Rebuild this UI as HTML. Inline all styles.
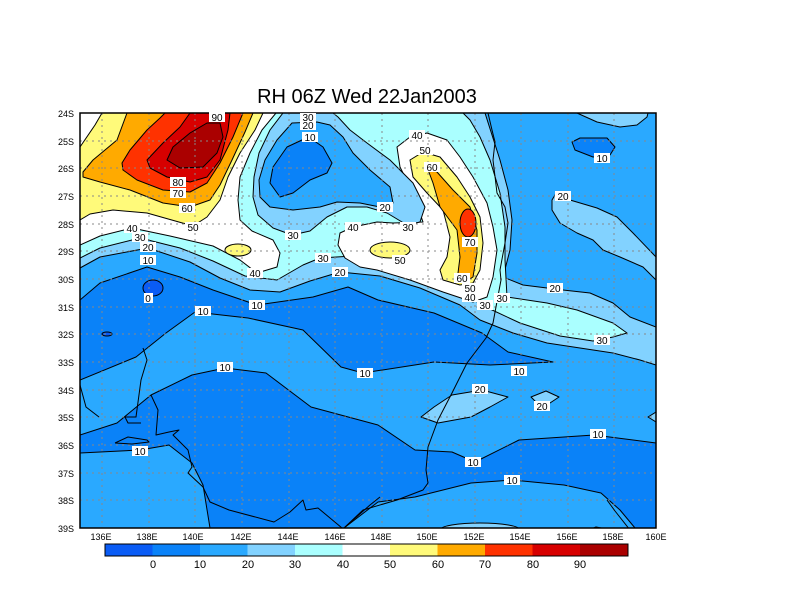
<!DOCTYPE html>
<html><head><meta charset="utf-8"><style>
html,body{margin:0;padding:0;background:#fff;}
svg{display:block;}
text{font-family:"Liberation Sans",sans-serif;}
</style></head><body>
<svg width="800" height="600" viewBox="0 0 800 600" xmlns="http://www.w3.org/2000/svg">
<defs><clipPath id="pc"><rect x="80" y="113" width="576" height="415"/></clipPath></defs>
<text x="367" y="103" font-size="20" text-anchor="middle" fill="#000">RH 06Z Wed 22Jan2003</text>
<g clip-path="url(#pc)" stroke="#000" stroke-width="1" stroke-linejoin="round">
<rect x="80" y="113" width="576" height="415" fill="#2aa9ff" stroke="none"/>
<polygon fill="#0a82f8" points="80,300 100,283 147,267 180,277 213,290 257,305 313,297 348,287 378,300 434,313 482,333 508,352 553,362 490,365 434,362 363,373 341,367 303,330 248,318 195,312 166,333 136,357 80,380"/>
<polygon fill="#0a82f8" points="80,435 117,423 151,395 192,375 225,368 266,373 311,407 378,425 415,450 452,452 475,462 519,440 594,435 656,443 656,528 635,528 620,510 601,493 564,485 512,480 471,483 415,497 378,502 344,528 210,528 203,485 192,463 169,445 140,450 80,453"/>
<polygon fill="#82d2ff" points="421,417 434,407 452,395 482,390 508,397 490,407 471,417 438,423"/>
<polygon fill="#82d2ff" points="531,397 546,391 559,397 547,405 536,402"/>
<polygon fill="#82d2ff" points="656,412 648,417 656,422"/>
<ellipse cx="480" cy="530" rx="40" ry="7" fill="#82d2ff"/>
<polygon fill="#82d2ff" points="80,268 100,257 148,248 190,262 220,278 250,290 280,292 310,281 340,272 380,276 420,288 460,305 480,320 513,333 547,343 580,348 613,353 640,360 656,365 656,327 630,317 613,303 590,293 563,290 523,285 503,277 510,250 512,220 508,190 500,160 492,135 485,113 80,113"/>
<polygon fill="#82d2ff" points="552,200 555,195 570,200 597,208 617,217 633,233 656,257 656,280 643,267 620,257 603,250 593,240 577,233 560,223 552,210"/>
<polygon fill="#82d2ff" points="577,113 597,122 620,127 637,125 647,117 648,113"/>
<polygon fill="#0a82f8" points="572,142 580,138 607,138 615,147 610,155 593,157 575,150"/>
<polygon fill="#aaffff" points="80,258 100,248 140,238 180,248 213,261 245,276 277,280 303,265 320,258 353,256 380,262 407,270 440,280 470,298 490,309 520,323 560,336 593,341 613,337 627,333 613,323 577,310 547,303 507,297 505,260 505,227 500,193 490,160 480,137 470,120 463,113 80,113"/>
<polygon fill="#ffffff" points="80,245 100,236 132,228 170,236 213,246 240,260 257,273 277,267 280,253 273,240 252,231 240,220 238,200 240,177 250,153 262,130 276,113 80,113"/>
<polygon fill="#ffffff" points="340,233 353,227 377,222 393,223 423,222 413,193 400,167 397,147 410,137 427,133 447,140 460,157 473,177 487,203 493,227 497,250 493,277 487,297 473,302 443,292 410,280 377,270 360,267 345,258 338,245"/>
<polygon fill="#fffa7a" points="80,147 95,125 102,113 263,113 255,130 240,153 228,177 220,200 207,217 193,226 147,213 113,210 90,214 80,220"/>
<ellipse cx="238" cy="250" rx="13" ry="6" fill="#fffa7a"/>
<ellipse cx="390" cy="250" rx="20" ry="8" fill="#fffa7a"/>
<polygon fill="#fffa7a" points="410,160 423,152 440,157 457,177 470,197 480,217 483,243 480,270 473,283 460,285 443,280 440,270 447,257 450,237 443,210 427,193 413,177"/>
<polygon fill="#ffaa00" points="83,172 93,160 117,140 127,113 253,113 245,132 232,160 220,185 210,200 190,207 163,203 130,190 100,182 83,177"/>
<polygon fill="#ffaa00" points="427,167 437,172 453,190 470,207 477,230 477,253 473,277 463,283 458,273 460,257 457,230 440,207 433,183"/>
<polygon fill="#ff3200" points="122,163 130,150 147,130 160,118 165,113 243,113 233,137 220,163 207,183 190,192 163,190 137,180 123,170"/>
<ellipse cx="468" cy="223" rx="8" ry="14" fill="#ff3200"/>
<polygon fill="#d70000" points="147,160 163,143 180,127 190,113 230,113 228,130 220,160 207,177 190,182 167,177 150,168"/>
<polygon fill="#aa0000" points="167,160 173,147 190,133 207,123 220,123 223,137 217,153 203,167 180,168"/>
<polygon fill="#82d2ff" points="283,113 270,130 259,153 254,177 253,197 258,215 273,228 292,235 310,231 327,217 347,207 367,207 387,213 407,225 420,222 425,207 413,183 390,160 367,143 350,130 338,117 333,113"/>
<polygon fill="#2aa9ff" points="292,123 277,140 265,160 259,180 260,197 270,207 293,210 320,207 337,202 360,203 380,207 393,203 390,187 370,170 353,153 343,137 330,125 317,122"/>
<polygon fill="#0a82f8" points="302,140 287,147 273,167 270,183 280,197 293,193 310,180 327,173 332,163 323,147 313,140"/>
<ellipse cx="153" cy="288" rx="10" ry="8" fill="#0a5cf5"/>
<ellipse cx="107" cy="334" rx="5" ry="2" fill="#0a5cf5"/>
<g stroke="#888" stroke-dasharray="2,4" fill="none">
<path d="M102,113V528M149,113V528M195,113V528M242,113V528M289,113V528M335,113V528M382,113V528M428,113V528M475,113V528M521,113V528M568,113V528M614,113V528"/>
<path d="M80,141H656M80,168H656M80,196H656M80,224H656M80,251H656M80,279H656M80,307H656M80,334H656M80,362H656M80,390H656M80,417H656M80,445H656M80,473H656M80,500H656"/>
</g>
<g fill="none" stroke="#000">
<polyline points="488,113 492,130 495,142 493,160 497,193 505,207 508,223 505,243 500,270 501,280 493,323 486,338 467,363 452,393 438,420 428,447 426,470 428,483 423,490 397,500 363,510 344,528"/>
<polyline points="344,528 370,505 380,497"/>
<polyline points="80,385 86,407 99,417"/>
<polyline points="143,348 147,360 141,380 136,417 125,417 128,423 141,423"/>
<polyline points="151,395 158,410 156,435 169,432 179,430 173,435 188,450 192,467 188,473 203,487 210,502 229,510 274,522 290,512 303,500 306,510 318,508 336,523 342,528"/>
<polyline points="115,443 128,437 147,440 149,442 132,444 115,443"/>
<polyline points="607,500 615,511 630,530"/>
<polyline points="588,530 596,527 607,529"/>
</g>
</g>
<rect x="80" y="113" width="576" height="415" fill="none" stroke="#000" stroke-width="1.5"/>
<g font-size="10" text-anchor="middle">
<g fill="#fff" stroke="none">
<rect x="209" y="112" width="16" height="10"/><rect x="170" y="177" width="16" height="10"/><rect x="170" y="188" width="16" height="10"/><rect x="179" y="203" width="16" height="10"/><rect x="185" y="222" width="16" height="10"/><rect x="124" y="223" width="16" height="10"/><rect x="132" y="232" width="16" height="10"/><rect x="140" y="242" width="16" height="10"/><rect x="140" y="255" width="16" height="10"/><rect x="144" y="293" width="9" height="10"/><rect x="300" y="113" width="16" height="9"/><rect x="300" y="120" width="16" height="10"/><rect x="302" y="132" width="16" height="10"/><rect x="377" y="202" width="16" height="10"/><rect x="400" y="222" width="16" height="10"/><rect x="345" y="222" width="16" height="10"/><rect x="285" y="230" width="16" height="10"/><rect x="392" y="255" width="16" height="10"/><rect x="315" y="253" width="16" height="10"/><rect x="332" y="267" width="16" height="10"/><rect x="247" y="268" width="16" height="10"/><rect x="409" y="130" width="16" height="10"/><rect x="417" y="145" width="16" height="10"/><rect x="424" y="162" width="16" height="10"/><rect x="462" y="237" width="16" height="10"/><rect x="454" y="273" width="16" height="10"/><rect x="462" y="283" width="16" height="10"/><rect x="462" y="292" width="16" height="10"/><rect x="477" y="300" width="16" height="10"/><rect x="494" y="293" width="16" height="10"/><rect x="547" y="283" width="16" height="10"/><rect x="594" y="153" width="16" height="10"/><rect x="555" y="191" width="16" height="10"/><rect x="594" y="335" width="16" height="10"/><rect x="249" y="300" width="16" height="10"/><rect x="195" y="306" width="16" height="10"/><rect x="217" y="362" width="16" height="10"/><rect x="357" y="368" width="16" height="10"/><rect x="511" y="366" width="16" height="10"/><rect x="472" y="384" width="16" height="10"/><rect x="534" y="401" width="16" height="10"/><rect x="590" y="429" width="16" height="10"/><rect x="465" y="457" width="16" height="10"/><rect x="504" y="475" width="16" height="10"/><rect x="132" y="446" width="16" height="10"/>
</g>
<g fill="#000">
<text x="217" y="121">90</text><text x="178" y="186">80</text><text x="178" y="197">70</text><text x="187" y="212">60</text><text x="193" y="231">50</text><text x="132" y="232">40</text><text x="140" y="241">30</text><text x="148" y="251">20</text><text x="148" y="264">10</text><text x="148" y="302">0</text><text x="308" y="121">30</text><text x="308" y="129">20</text><text x="310" y="141">10</text><text x="385" y="211">20</text><text x="408" y="231">30</text><text x="353" y="231">40</text><text x="293" y="239">30</text><text x="400" y="264">50</text><text x="323" y="262">30</text><text x="340" y="276">20</text><text x="255" y="277">40</text><text x="417" y="139">40</text><text x="425" y="154">50</text><text x="432" y="171">60</text><text x="470" y="246">70</text><text x="462" y="282">60</text><text x="470" y="292">50</text><text x="470" y="301">40</text><text x="485" y="309">30</text><text x="502" y="302">30</text><text x="555" y="292">20</text><text x="602" y="162">10</text><text x="563" y="200">20</text><text x="602" y="344">30</text><text x="257" y="309">10</text><text x="203" y="315">10</text><text x="225" y="371">10</text><text x="365" y="377">10</text><text x="519" y="375">10</text><text x="480" y="393">20</text><text x="542" y="410">20</text><text x="598" y="438">10</text><text x="473" y="466">10</text><text x="512" y="484">10</text><text x="140" y="455">10</text>
</g></g>
<g font-size="9" fill="#000" text-anchor="end">
<text x="74" y="117">24S</text><text x="74" y="145">25S</text><text x="74" y="172">26S</text><text x="74" y="200">27S</text><text x="74" y="228">28S</text><text x="74" y="255">29S</text><text x="74" y="283">30S</text><text x="74" y="311">31S</text><text x="74" y="338">32S</text><text x="74" y="366">33S</text><text x="74" y="394">34S</text><text x="74" y="421">35S</text><text x="74" y="449">36S</text><text x="74" y="477">37S</text><text x="74" y="504">38S</text><text x="74" y="532">39S</text>
</g>
<g font-size="9" fill="#000" text-anchor="middle">
<text x="101" y="540">136E</text><text x="147" y="540">138E</text><text x="193" y="540">140E</text><text x="241" y="540">142E</text><text x="288" y="540">144E</text><text x="335" y="540">146E</text><text x="381" y="540">148E</text><text x="427" y="540">150E</text><text x="474" y="540">152E</text><text x="520" y="540">154E</text><text x="567" y="540">156E</text><text x="613" y="540">158E</text><text x="656" y="540">160E</text>
</g>
<g stroke="none">
<rect x="105" y="544" width="48" height="12" fill="#0a5cf5"/>
<rect x="152.5" y="544" width="48" height="12" fill="#0a82f8"/>
<rect x="200" y="544" width="48" height="12" fill="#2aa9ff"/>
<rect x="247.5" y="544" width="48" height="12" fill="#82d2ff"/>
<rect x="295" y="544" width="48" height="12" fill="#aaffff"/>
<rect x="342.5" y="544" width="48" height="12" fill="#ffffff"/>
<rect x="390" y="544" width="48" height="12" fill="#fffa7a"/>
<rect x="437.5" y="544" width="48" height="12" fill="#ffaa00"/>
<rect x="485" y="544" width="48" height="12" fill="#ff3200"/>
<rect x="532.5" y="544" width="48" height="12" fill="#d70000"/>
<rect x="580" y="544" width="48" height="12" fill="#aa0000"/>
</g>
<rect x="105" y="544" width="523" height="12" fill="none" stroke="#000" stroke-width="1"/>
<g font-size="11" fill="#000" text-anchor="middle">
<text x="153" y="568">0</text><text x="200" y="568">10</text><text x="248" y="568">20</text><text x="295" y="568">30</text><text x="343" y="568">40</text><text x="390" y="568">50</text><text x="438" y="568">60</text><text x="485" y="568">70</text><text x="533" y="568">80</text><text x="580" y="568">90</text>
</g>
</svg>
</body></html>
